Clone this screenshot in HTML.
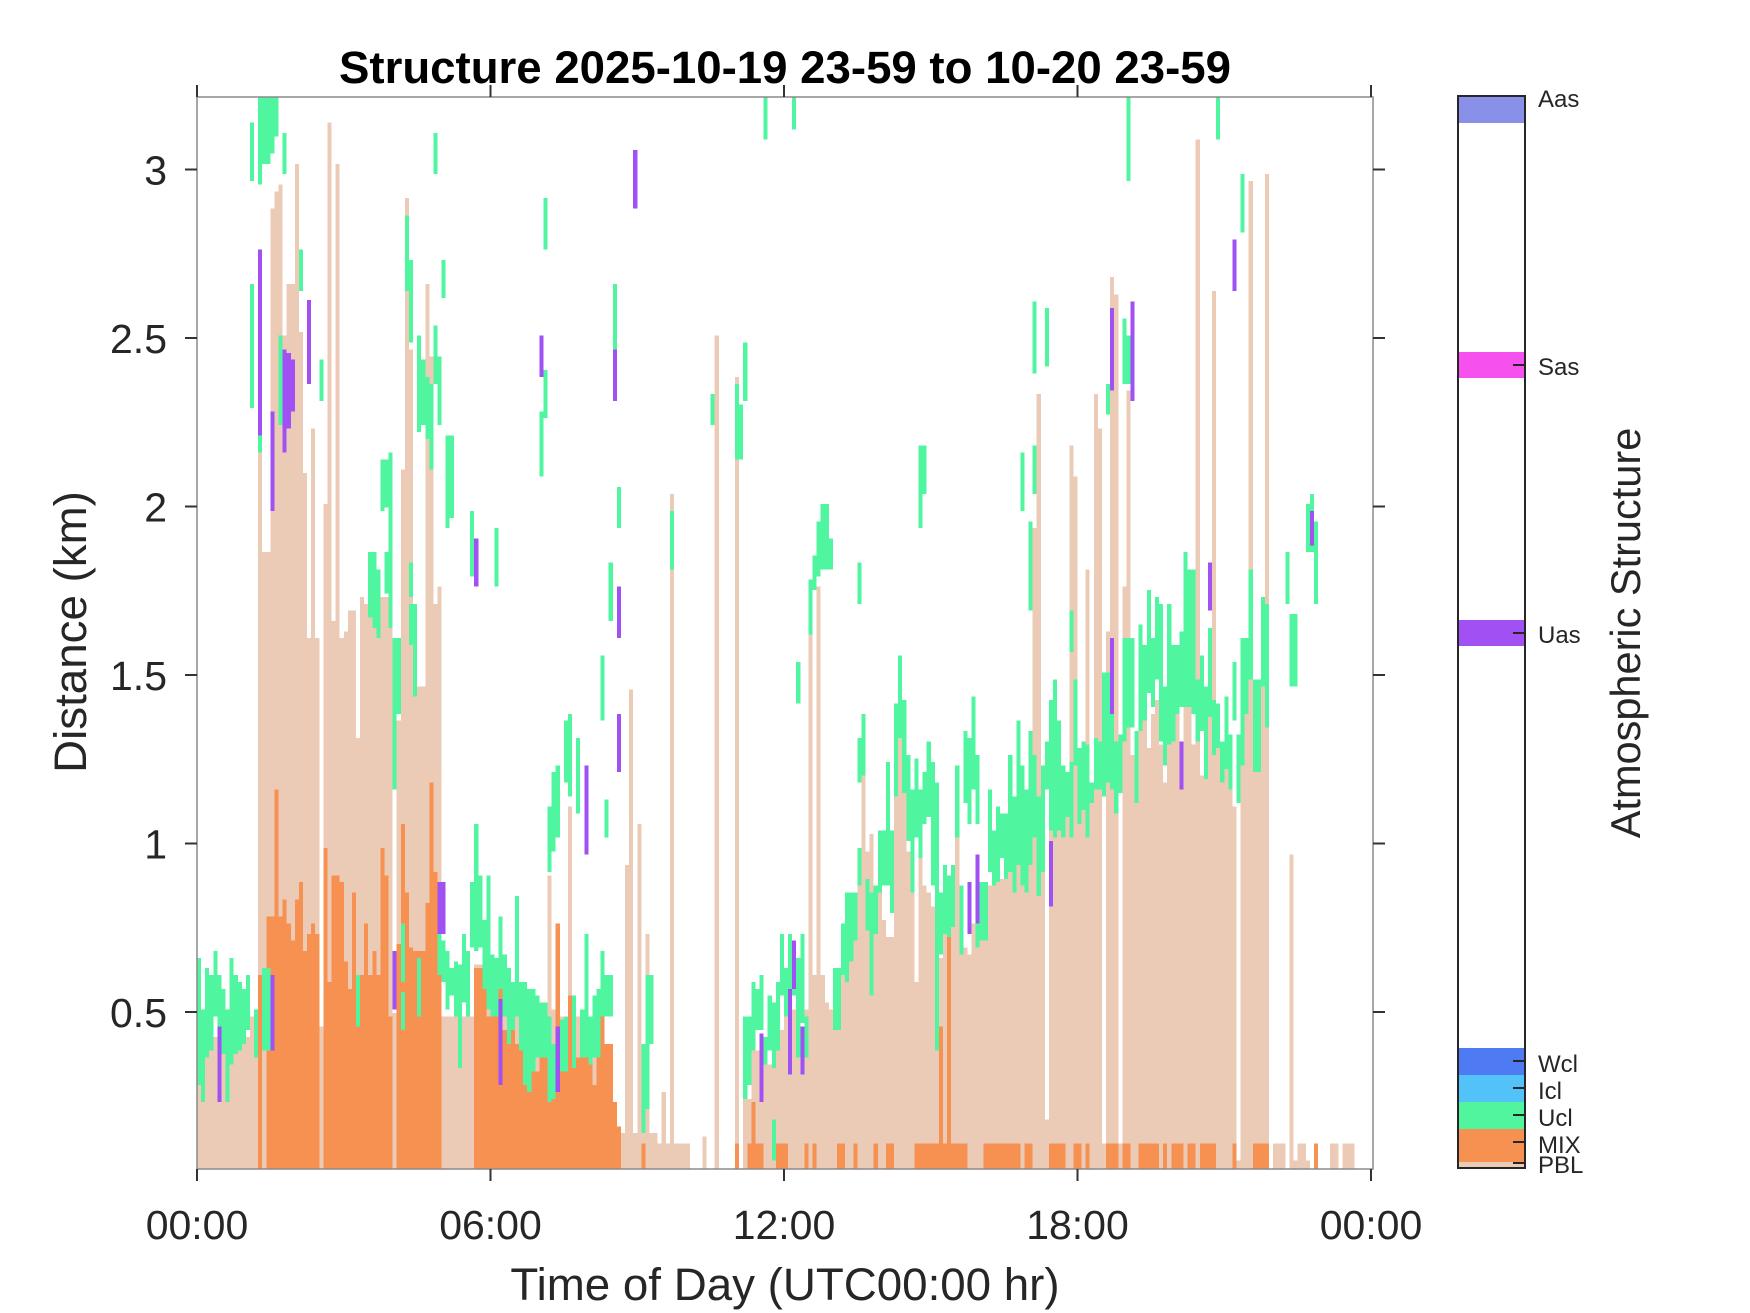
<!DOCTYPE html>
<html><head><meta charset="utf-8"><style>html,body{margin:0;padding:0;background:#fff}svg{display:block}</style></head>
<body>
<svg width="1750" height="1313" viewBox="0 0 1750 1313" xmlns="http://www.w3.org/2000/svg" font-family="'Liberation Sans', Arial, sans-serif">
<rect width="1750" height="1313" fill="#fff"/>
<defs><clipPath id="pc"><rect x="197" y="97" width="1176" height="1072"/></clipPath></defs>
<g clip-path="url(#pc)">
<g transform="matrix(4.0764,0,0,0.6875,197,95)" shape-rendering="crispEdges">
<path fill="#EBCBB5" d="M0 1562V1370h13V1340h1V1370h1V520h1V665h2V165h1V140h1V130h1V350h1V275h2V100h1V345h1V550h1V790h1V485h1V790h1V1355h1V595h1V40h1V765h1V100h1V790h1V780h1V750h2V935h1V730h1V740h1V715h1V745h1V790h1V730h2V770h1V1335h1V910h1V545h1V150h1V370h1V790h1V860h2V275h1V380h1V740h1V715h1V1340h8V1265h2V1280h1V1255h3V1300h1V1330h11V1135h1V1330h1V1205h1V1340h2V1035h1V1340h5V1400h1V1320h1V1340h1V1380h2V1465h1V1500h1V1510h1V1120h1V865h1V1510h1V1060h1V1510h1V1220h1V1510h2V1525h1V1450h1V1525h1V580h1V1525h4V1562h3V1515h1V1562h2V350h1V1562h4V410h1V1562h1V1440h1V1460h1V1390h4V1410h1V1400h1V1350h1V1360h1V1340h1V1310h1V1330h1V1340h1V1360h1V1330h1V785h1V1280h1V715h1V1280h1V1320h1V1330h1V1360h1V1280h1V1250h1V1200h1V1180h1V1215h1V1150h1V985h1V1100h1V1075h1V1215h1V1120h1V1200h1V1225h2V1020h1V930h1V1010h1V1100h1V1160h1V1290h1V1100h1V1150h1V1160h1V1180h1V1385h1V1255h1V1120h1V1225h1V1210h1V1060h1V1230h1V1240h1V1250h1V1205h1V1240h1V1230h2V1150h2V1145h1V1140h2V1130h1V1160h1V1120h1V1150h1V1160h1V1120h1V630h1V435h1V1130h1V1490h1V1070h1V1080h1V1070h1V1080h1V1050h1V510h1V555h1V1060h1V1040h1V690h1V1030h1V435h1V485h1V1525h1V780h1V265h1V290h1V1525h1V715h1V430h1V960h1V1000h1V925h1V910h1V950h1V900h1V880h1V945h1V1000h1V945h1V940h1V900h1V940h1V890h2V945h1V65h1V990h1V945h1V905h1V285h1V950h1V1000h1V980h1V1010h1V1035h1V1550h1V975h1V900h1V125h1V985h2V860h1V115h1V1562h1V1525h3V1562h1V1105h1V1550h1V1525h2V1550h1V1562h5V1525h2V1562h1V1525h3V1562h4Z"/>
<path fill="#F79152" d="M15 1562V1280h1V1562h1V1195h2V1010h1V1195h1V1170h1V1205h1V1230h1V1170h1V1145h1V1245h1V1220h1V1205h1V1220h1V1562h1V1095h1V1290h1V1135h2V1145h1V1260h1V1300h1V1160h1V1350h1V1280h1V1205h1V1280h1V1245h1V1280h1V1095h1V1135h1V1340h1V1562h1V1235h1V1060h1V1160h1V1240h1V1245h3V1175h1V1000h1V1130h1V1145h1V1562h8V1270h2V1300h1V1340h1V1320h1V1340h1V1300h1V1360h1V1340h1V1355h1V1380h1V1340h1V1360h1V1395h1V1390h1V1420h1V1380h1V1400h1V1345h1V1410h1V1205h1V1385h1V1390h1V1310h1V1340h1V1400h1V1340h2V1345h1V1440h1V1320h1V1340h1V1380h2V1465h1V1500h1V1562Z
M109 1525h1V1562h-1z M132 1525h1V1562h-1z M135 1525h1V1562h-1z M136 1465h1V1562h-1z M137 1525h2V1562h-2z M142 1525h3V1562h-3z M149 1525h1V1562h-1z M151 1525h1V1562h-1z M157 1525h2V1562h-2z M161 1525h1V1562h-1z M166 1525h1V1562h-1z M169 1525h2V1562h-2z M176 1525h6V1562h-6z M182 1355h1V1562h-1z M183 1525h1V1562h-1z M184 1220h1V1562h-1z M185 1525h4V1562h-4z M193 1525h9V1562h-9z M203 1525h2V1562h-2z M209 1525h4V1562h-4z M215 1525h2V1562h-2z M218 1525h1V1562h-1z M223 1525h3V1562h-3z M227 1525h2V1562h-2z M231 1525h5V1562h-5z M237 1525h1V1562h-1z M239 1525h3V1562h-3z M243 1525h2V1562h-2z M246 1525h4V1562h-4z M254 1525h1V1562h-1z M259 1525h4V1562h-4z M274 1525h1V1562h-1z"/>
<path fill="#50F5A0" d="M0 1255V1440h1V1255z M1 1330V1465h1V1330z M2 1270V1400h1V1270z M3 1280V1390h1V1280z M4 1245V1340h1V1245z M5 1280V1410h1V1280z M6 1300V1395h1V1300z M7 1330V1465h1V1330z M8 1255V1410h1V1255z M9 1280V1395h1V1280z M10 1290V1390h1V1290z M11 1300V1380h1V1300z M12 1280V1360h1V1280z M13 40V125h1V40z M13 275V455h1V275z M14 1330V1400h1V1330z M15 0V130h1V0z M15 495V520h1V495z M16 0V100h2V0z M16 1270V1390h2V1270z M18 0V85h1V0z M19 0V60h1V0z M20 350V480h1V350z M21 55V115h1V55z M25 225V285h1V225z M30 385V445h1V385z M39 1280V1355h1V1280z M42 665V760h1V665z M43 665V775h1V665z M44 690V790h1V690z M45 530V605h1V530z M46 530V600h1V530z M46 665V725h1V665z M47 520V775h1V520z M48 790V1010h1V790z M49 790V900h1V790z M50 1205V1290h1V1205z M50 1305V1360h1V1305z M51 175V285h1V175z M52 240V360h1V240z M52 680V730h1V680z M52 740V800h1V740z M53 740V875h1V740z M54 350V490h1V350z M54 1255V1340h1V1255z M55 385V480h1V385z M56 410V500h1V410z M57 420V545h1V420z M58 335V420h1V335z M58 55V115h1V55z M59 380V480h1V380z M59 1200V1280h1V1200z M60 240V295h1V240z M60 1230V1290h1V1230z M61 1245V1330h1V1245z M61 495V630h1V495z M62 1270V1310h1V1270z M62 495V615h1V495z M63 1260V1340h1V1260z M64 1265V1415h1V1265z M65 1220V1320h1V1220z M66 1245V1340h1V1245z M67 1145V1240h1V1145z M67 605V700h1V605z M68 1060V1245h1V1060z M69 1135V1240h1V1135z M70 1200V1300h1V1200z M71 1135V1330h1V1135z M72 1250V1340h1V1250z M73 1255V1340h1V1255z M73 630V715h1V630z M74 1195V1300h1V1195z M75 1250V1340h1V1250z M76 1270V1380h1V1270z M77 1290V1360h1V1290z M78 1165V1340h1V1165z M79 1290V1390h1V1290z M80 1290V1440h1V1290z M81 1300V1450h1V1300z M82 1300V1420h1V1300z M83 1310V1400h1V1310z M84 1320V1400h1V1320z M84 460V555h1V460z M85 1320V1400h1V1320z M85 150V225h1V150z M85 400V470h1V400z M86 1035V1130h1V1035z M86 1340V1465h1V1340z M87 985V1100h1V985z M87 1380V1460h1V1380z M88 975V1080h1V975z M89 1345V1420h1V1345z M90 910V1000h1V910z M90 1340V1420h1V1340z M91 900V1020h1V900z M92 1310V1415h1V1310z M93 935V1045h1V935z M94 1330V1400h1V1330z M95 1220V1400h1V1220z M96 1340V1410h1V1340z M97 1310V1400h1V1310z M98 1300V1400h1V1300z M99 1245V1340h1V1245z M99 815V910h1V815z M100 1025V1080h1V1025z M100 1280V1340h1V1280z M101 680V765h1V680z M101 1280V1340h1V1280z M102 275V380h1V275z M103 570V630h1V570z M109 1380V1510h1V1380z M110 1280V1475h1V1280z M111 1280V1380h1V1280z M116 605V690h1V605z M126 435V480h1V435z M132 420V530h1V420z M133 450V530h1V450z M134 360V445h1V360z M134 1340V1460h1V1340z M135 1340V1440h1V1340z M136 1290V1390h1V1290z M137 1300V1360h1V1300z M138 1280V1360h1V1280z M139 1370V1410h1V1370z M139 0V65h1V0z M140 1310V1390h1V1310z M141 1320V1415h1V1320z M141 1490V1550h1V1490z M142 1290V1390h1V1290z M143 1220V1310h1V1220z M144 1270V1340h1V1270z M145 1220V1300h1V1220z M146 1250V1310h1V1250z M146 0V50h1V0z M147 1255V1400h1V1255z M147 825V885h1V825z M148 1220V1350h1V1220z M149 1340V1400h1V1340z M150 705V785h1V705z M151 670V720h1V670z M152 620V700h1V620z M153 595V690h2V595z M155 645V690h1V645z M156 1270V1360h2V1270z M158 1205V1280h1V1205z M159 1160V1290h1V1160z M160 1160V1260h1V1160z M161 1160V1230h1V1160z M162 935V1000h1V935z M162 1095V1150h1V1095z M162 680V740h1V680z M163 900V990h1V900z M164 1140V1215h1V1140z M165 1160V1310h1V1160z M166 1150V1220h1V1150z M167 1070V1160h1V1070z M168 1070V1150h1V1070z M169 970V1150h1V970z M170 1070V1190h1V1070z M171 885V1020h1V885z M172 815V935h1V815z M173 880V1015h1V880z M174 960V1085h1V960z M175 1010V1160h1V1010z M176 965V1080h1V965z M177 1010V1110h1V1010z M177 510V630h1V510z M178 985V1060h1V985z M178 510V580h1V510z M179 940V1050h1V940z M180 970V1150h1V970z M181 1000V1390h1V1000z M182 1160V1250h1V1160z M183 1120V1220h1V1120z M184 1135V1225h1V1135z M185 1120V1210h1V1120z M186 975V1080h1V975z M187 1150V1250h1V1150z M188 925V1030h1V925z M189 935V1060h1V935z M190 875V1010h1V875z M191 960V1060h1V960z M191 1180V1240h1V1180z M192 1145V1230h2V1145z M194 1010V1130h1V1010z M195 1070V1150h1V1070z M196 1035V1145h1V1035z M197 1045V1110h1V1045z M198 1045V1140h1V1045z M199 960V1130h1V960z M200 1020V1160h1V1020z M201 910V1120h1V910z M202 975V1150h1V975z M202 520V605h1V520z M203 1010V1160h1V1010z M204 925V1120h1V925z M204 620V750h1V620z M205 960V1080h1V960z M205 300V405h1V300z M205 510V580h1V510z M206 1020V1165h1V1020z M207 975V1130h1V975z M208 940V1010h1V940z M208 310V395h1V310z M209 880V1070h1V880z M210 850V1080h1V850z M211 910V1070h1V910z M212 975V1080h1V975z M213 985V1050h1V985z M214 750V810h1V750z M214 970V1080h1V970z M215 850V975h1V850z M216 950V1060h1V950z M217 940V1040h1V940z M218 945V1080h1V945z M219 1000V1030h1V1000z M220 935V1010h1V935z M221 940V1010h1V940z M222 840V1020h1V840z M223 840V1000h1V840z M223 420V465h1V420z M224 900V1010h1V900z M225 940V1045h1V940z M226 930V1015h1V930z M227 790V940h1V790z M227 325V420h1V325z M228 790V920h1V790z M228 350V420h1V350z M228 0V125h1V0z M229 790V920h1V790z M230 925V1030h1V925z M231 770V925h1V770z M232 800V910h1V800z M233 720V870h1V720z M234 790V890h1V790z M235 730V850h1V730z M236 740V940h1V740z M237 860V975h1V860z M238 740V945h1V740z M239 800V940h1V800z M240 800V900h1V800z M241 780V890h1V780z M242 665V890h1V665z M243 690V890h1V690z M244 690V900h1V690z M245 850V940h1V850z M246 815V925h1V815z M247 860V995h1V860z M248 775V905h1V775z M249 880V960h1V880z M250 885V950h1V885z M250 0V65h1V0z M251 940V1000h1V940z M252 875V980h1V875z M253 930V1010h1V930z M254 825V910h1V825z M255 930V1030h1V930z M256 790V975h1V790z M256 115V200h1V115z M257 790V900h1V790z M258 690V850h1V690z M259 850V985h2V850z M261 730V860h1V730z M262 740V920h1V740z M267 665V740h1V665z M268 755V860h2V755z M272 595V665h1V595z M273 580V665h1V580z M274 620V740h1V620z"/>
<path fill="#A050F3" d="M5 1355V1465h1V1355z M15 225V495h1V225z M18 460V605h1V460z M18 1280V1390h1V1280z M21 370V520h1V370z M22 375V485h1V375z M23 385V460h1V385z M27 298V420h1V298z M48 1245V1330h1V1245z M59 1145V1220h2V1145z M68 645V715h1V645z M74 1315V1440h1V1315z M84 350V410h1V350z M88 1355V1450h1V1355z M95 975V1105h1V975z M102 370V445h1V370z M103 715V790h1V715z M103 900V985h1V900z M107 80V165h1V80z M138 1365V1465h1V1365z M145 1300V1425h1V1300z M146 1230V1300h1V1230z M148 1355V1425h1V1355z M189 1145V1220h1V1145z M191 1105V1205h1V1105z M209 1085V1180h1V1085z M224 310V430h1V310z M224 790V900h1V790z M229 300V445h1V300z M241 940V1010h1V940z M248 680V750h1V680z M254 210V285h1V210z M273 605V655h1V605z"/>
</g>
</g>
<!-- axes box -->
<rect x="197" y="97" width="1176" height="1072" fill="none" stroke="#8a8a8a" stroke-width="1.5"/>
<!-- ticks -->
<g stroke="#333" stroke-width="2">
<line x1="197" y1="1169" x2="197" y2="1181"/><line x1="490.5" y1="1169" x2="490.5" y2="1181"/><line x1="784" y1="1169" x2="784" y2="1181"/><line x1="1077.5" y1="1169" x2="1077.5" y2="1181"/><line x1="1371" y1="1169" x2="1371" y2="1181"/>
<line x1="197" y1="97" x2="197" y2="85"/><line x1="490.5" y1="97" x2="490.5" y2="85"/><line x1="784" y1="97" x2="784" y2="85"/><line x1="1077.5" y1="97" x2="1077.5" y2="85"/><line x1="1371" y1="97" x2="1371" y2="85"/>
<line x1="185" y1="169.5" x2="197" y2="169.5"/><line x1="185" y1="338" x2="197" y2="338"/><line x1="185" y1="506.5" x2="197" y2="506.5"/><line x1="185" y1="675" x2="197" y2="675"/><line x1="185" y1="843.5" x2="197" y2="843.5"/><line x1="185" y1="1012" x2="197" y2="1012"/>
<line x1="1373" y1="169.5" x2="1385" y2="169.5"/><line x1="1373" y1="338" x2="1385" y2="338"/><line x1="1373" y1="506.5" x2="1385" y2="506.5"/><line x1="1373" y1="675" x2="1385" y2="675"/><line x1="1373" y1="843.5" x2="1385" y2="843.5"/><line x1="1373" y1="1012" x2="1385" y2="1012"/>
</g>
<!-- tick labels -->
<g font-size="41" fill="#262626" text-anchor="middle">
<text x="197" y="1239">00:00</text><text x="490.5" y="1239">06:00</text><text x="784" y="1239">12:00</text><text x="1077.5" y="1239">18:00</text><text x="1371" y="1239">00:00</text>
</g>
<g font-size="41" fill="#262626" text-anchor="end">
<text x="167" y="184.5">3</text><text x="167" y="353">2.5</text><text x="167" y="521.5">2</text><text x="167" y="690">1.5</text><text x="167" y="858.5">1</text><text x="167" y="1027">0.5</text>
</g>
<!-- title & labels -->
<text x="785" y="83" font-size="45" font-weight="bold" fill="#000" text-anchor="middle" textLength="892" lengthAdjust="spacingAndGlyphs">Structure 2025-10-19 23-59 to 10-20 23-59</text>
<text x="785" y="1300" font-size="45.7" fill="#262626" text-anchor="middle">Time of Day (UTC00:00 hr)</text>
<text transform="translate(86,632) rotate(-90)" font-size="45.7" fill="#262626" text-anchor="middle">Distance (km)</text>
<!-- colorbar -->
<rect x="1458" y="96" width="67" height="1072" fill="#fff"/>
<rect x="1458" y="96" width="67" height="27" fill="#8890E8"/>
<rect x="1458" y="352" width="67" height="26" fill="#F650EE"/>
<rect x="1458" y="620" width="67" height="26" fill="#A050F3"/>
<rect x="1458" y="1048" width="67" height="27" fill="#4E7BF3"/>
<rect x="1458" y="1075" width="67" height="27" fill="#52C2F8"/>
<rect x="1458" y="1102" width="67" height="27" fill="#50F59E"/>
<rect x="1458" y="1129" width="67" height="33" fill="#F79152"/>
<rect x="1458" y="1162" width="67" height="6" fill="#EBCBB5"/>
<rect x="1458" y="96" width="67" height="1072" fill="none" stroke="#262626" stroke-width="2"/>
<g stroke="#262626" stroke-width="2">
<line x1="1513" y1="365" x2="1525" y2="365"/><line x1="1513" y1="633" x2="1525" y2="633"/><line x1="1513" y1="1061" x2="1525" y2="1061"/><line x1="1513" y1="1088" x2="1525" y2="1088"/><line x1="1513" y1="1115" x2="1525" y2="1115"/><line x1="1513" y1="1142" x2="1525" y2="1142"/><line x1="1513" y1="1163" x2="1525" y2="1163"/>
</g>
<g font-size="24" fill="#262626">
<text x="1538" y="107">Aas</text><text x="1538" y="375">Sas</text><text x="1538" y="643">Uas</text><text x="1538" y="1072">Wcl</text><text x="1538" y="1099">Icl</text><text x="1538" y="1126">Ucl</text><text x="1538" y="1153">MIX</text><text x="1538" y="1173">PBL</text>
</g>
<text transform="translate(1640,633) rotate(-90)" font-size="41.5" fill="#262626" text-anchor="middle">Atmospheric Structure</text>
</svg>
</body></html>
